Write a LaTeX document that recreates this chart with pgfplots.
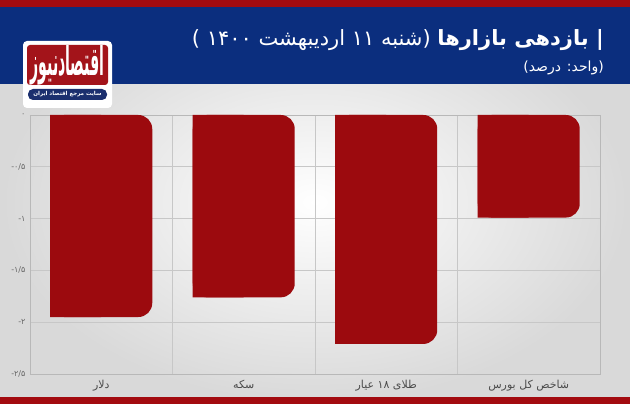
\documentclass[border=0pt]{standalone}
\usepackage{fontspec}
\usepackage{pgfplots}
\pgfplotsset{compat=1.18}
\usepackage{pgfplotstable}
\setmainfont{DejaVu Sans}
\newfontfamily\fa[Script=Arabic]{DejaVu Sans}
\newfontfamily\faplain{DejaVu Sans}
\TeXXeTstate=1
\definecolor{barred}{HTML}{9C0A0E}
\definecolor{navy}{HTML}{0B2E7E}
\definecolor{topred}{HTML}{A30B10}
\definecolor{logored}{HTML}{A3141A}
\definecolor{pillnavy}{HTML}{1B2F6E}

\pgfplotstableread{
i v
0 -1.95
1 -1.76
2 -2.21
3 -0.99
}\data

\begin{document}
\begin{tikzpicture}[x=1pt,y=1pt]
\shade[inner color=white, outer color=black!15] (0,0) rectangle (630,404);
\fill[topred] (0,397) rectangle (630,404);
\fill[navy] (0,320) rectangle (630,397);
\fill[topred] (0,0) rectangle (630,7);
% title
\node[anchor=east, text=white, inner sep=0] at (604,364)
  {\fa\fontsize{21}{24}\selectfont\beginR{\bfseries | بازدهی بازارها} {\faplain )}شنبه ۱۱ اردیبهشت ۱۴۰۰ {\faplain (}\endR};
\node[anchor=east, text=white, inner sep=0] at (604,336)
  {\fa\fontsize{14}{16}\selectfont\beginR{\faplain )}واحد: درصد{\faplain (}\endR};
% logo
\fill[white, rounded corners=4pt] (23,296) rectangle (112,363);
\fill[logored, rounded corners=3pt] (27,319) rectangle (108,359);
\fill[pillnavy, rounded corners=5pt] (28,304) rectangle (107,315);
\node[text=white, inner sep=0] at (67.5,339)
  {\resizebox{74pt}{30pt}{\fa\bfseries\beginR اقتصادنیوز\endR}};
\node[text=white, inner sep=0] at (67.5,309.5)
  {\resizebox{68pt}{!}{\fa\bfseries\fontsize{6}{7}\selectfont\beginR سایت مرجع اقتصاد ایران\endR}};

\begin{axis}[
  at={(30pt,30pt)}, anchor=south west,
  scale only axis, width=570pt, height=259pt,
  xmin=-0.5, xmax=3.5, ymin=-2.5, ymax=0,
  xtick={0,1,2,3},
  xticklabels={{\beginR دلار\endR},{\beginR سکه\endR},{\beginR طلای ۱۸ عیار\endR},{\beginR شاخص کل بورس\endR}},
  minor xtick={0.5,1.5,2.5},
  ytick={-2.5,-2,-1.5,-1,-0.5,0},
  yticklabels={-۲/۵,-۲,-۱/۵,-۱,-۰/۵,۰},
  ymajorgrids, xminorgrids,
  grid style={black!22, line width=0.6pt},
  minor grid style={black!22, line width=0.6pt},
  axis line style={black!28, line width=0.7pt},
  major tick length=0pt, minor tick length=0pt,
  tick style={draw=none},
  x tick label style={font=\fa\fontsize{11}{13}\selectfont, text=black!70, yshift=-3pt},
  y tick label style={font=\faplain\fontsize{8}{10}\selectfont, text=black!60, xshift=-1pt},
  clip=true,
]
\addplot[ybar, bar width=102pt, bar shift=0pt, fill=barred, draw=none, rounded corners=14pt] table[x=i,y=v]{\data};
\addplot[ybar, bar width=51pt, bar shift=-25.5pt, fill=barred, draw=none, sharp corners] table[x=i,y=v]{\data};
\end{axis}
\end{tikzpicture}
\end{document}
